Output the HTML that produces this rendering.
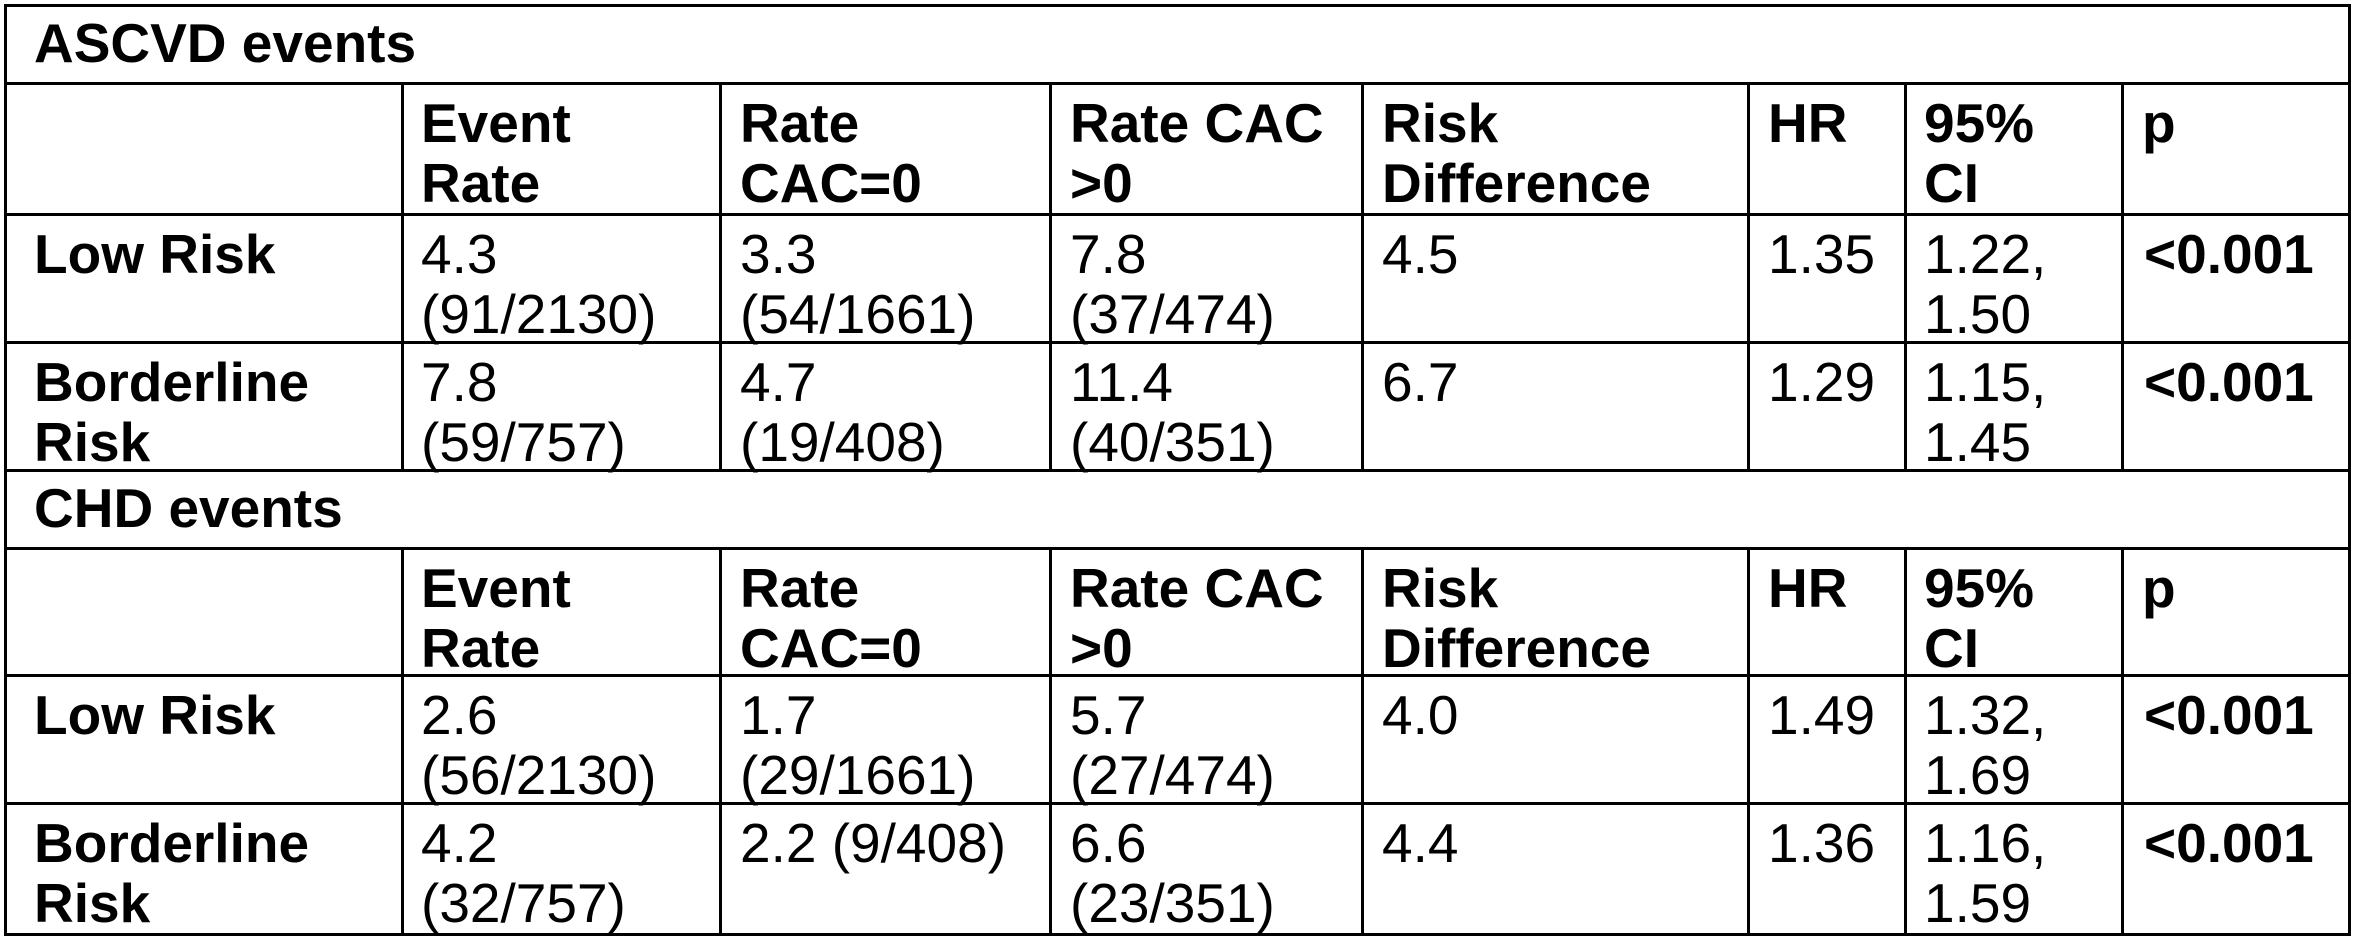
<!DOCTYPE html>
<html><head><meta charset="utf-8"><style>
body{margin:0;width:2354px;height:944px;background:#fff;position:relative;overflow:hidden;font-family:"Liberation Sans",Arial,sans-serif;font-size:55px;line-height:60px;color:#000}
.h{position:absolute;background:#000;height:3px}
.v{position:absolute;background:#000;width:3px}
.c{position:absolute;white-space:nowrap;margin-top:4px}
b{font-weight:bold}
</style></head><body>
<div class="h" style="left:4px;width:2347px;top:4px"></div>
<div class="h" style="left:4px;width:2347px;top:82px"></div>
<div class="h" style="left:4px;width:2347px;top:213px"></div>
<div class="h" style="left:4px;width:2347px;top:341px"></div>
<div class="h" style="left:4px;width:2347px;top:469px"></div>
<div class="h" style="left:4px;width:2347px;top:547px"></div>
<div class="h" style="left:4px;width:2347px;top:674px"></div>
<div class="h" style="left:4px;width:2347px;top:802px"></div>
<div class="h" style="left:4px;width:2347px;top:933px"></div>
<div class="v" style="left:4px;top:4px;height:932px"></div>
<div class="v" style="left:2348px;top:4px;height:932px"></div>
<div class="v" style="left:401px;top:82px;height:390px"></div>
<div class="v" style="left:719px;top:82px;height:390px"></div>
<div class="v" style="left:1049px;top:82px;height:390px"></div>
<div class="v" style="left:1361px;top:82px;height:390px"></div>
<div class="v" style="left:1747px;top:82px;height:390px"></div>
<div class="v" style="left:1904px;top:82px;height:390px"></div>
<div class="v" style="left:2121px;top:82px;height:390px"></div>
<div class="v" style="left:401px;top:547px;height:389px"></div>
<div class="v" style="left:719px;top:547px;height:389px"></div>
<div class="v" style="left:1049px;top:547px;height:389px"></div>
<div class="v" style="left:1361px;top:547px;height:389px"></div>
<div class="v" style="left:1747px;top:547px;height:389px"></div>
<div class="v" style="left:1904px;top:547px;height:389px"></div>
<div class="v" style="left:2121px;top:547px;height:389px"></div>

<div class="c" style="left:34px;top:9px"><b>ASCVD events</b></div>
<div class="c" style="left:34px;top:474px"><b>CHD events</b></div>

<div class="c" style="left:421px;top:89px"><b>Event<br>Rate</b></div>
<div class="c" style="left:740px;top:89px"><b>Rate<br>CAC=0</b></div>
<div class="c" style="left:1070px;top:89px"><b>Rate CAC<br>&gt;0</b></div>
<div class="c" style="left:1382px;top:89px"><b>Risk<br>Difference</b></div>
<div class="c" style="left:1768px;top:89px"><b>HR</b></div>
<div class="c" style="left:1924px;top:89px"><b>95%<br>CI</b></div>
<div class="c" style="left:2142px;top:89px"><b>p</b></div>

<div class="c" style="left:421px;top:554px"><b>Event<br>Rate</b></div>
<div class="c" style="left:740px;top:554px"><b>Rate<br>CAC=0</b></div>
<div class="c" style="left:1070px;top:554px"><b>Rate CAC<br>&gt;0</b></div>
<div class="c" style="left:1382px;top:554px"><b>Risk<br>Difference</b></div>
<div class="c" style="left:1768px;top:554px"><b>HR</b></div>
<div class="c" style="left:1924px;top:554px"><b>95%<br>CI</b></div>
<div class="c" style="left:2142px;top:554px"><b>p</b></div>

<div class="c" style="left:34px;top:220px"><b>Low Risk</b></div>
<div class="c" style="left:421px;top:220px">4.3<br>(91/2130)</div>
<div class="c" style="left:740px;top:220px">3.3<br>(54/1661)</div>
<div class="c" style="left:1070px;top:220px">7.8<br>(37/474)</div>
<div class="c" style="left:1382px;top:220px">4.5</div>
<div class="c" style="left:1768px;top:220px">1.35</div>
<div class="c" style="left:1924px;top:220px">1.22,<br>1.50</div>
<div class="c" style="left:2144px;top:220px"><b>&lt;0.001</b></div>

<div class="c" style="left:34px;top:348px"><b>Borderline<br>Risk</b></div>
<div class="c" style="left:421px;top:348px">7.8<br>(59/757)</div>
<div class="c" style="left:740px;top:348px">4.7<br>(19/408)</div>
<div class="c" style="left:1070px;top:348px">11.4<br>(40/351)</div>
<div class="c" style="left:1382px;top:348px">6.7</div>
<div class="c" style="left:1768px;top:348px">1.29</div>
<div class="c" style="left:1924px;top:348px">1.15,<br>1.45</div>
<div class="c" style="left:2144px;top:348px"><b>&lt;0.001</b></div>

<div class="c" style="left:34px;top:681px"><b>Low Risk</b></div>
<div class="c" style="left:421px;top:681px">2.6<br>(56/2130)</div>
<div class="c" style="left:740px;top:681px">1.7<br>(29/1661)</div>
<div class="c" style="left:1070px;top:681px">5.7<br>(27/474)</div>
<div class="c" style="left:1382px;top:681px">4.0</div>
<div class="c" style="left:1768px;top:681px">1.49</div>
<div class="c" style="left:1924px;top:681px">1.32,<br>1.69</div>
<div class="c" style="left:2144px;top:681px"><b>&lt;0.001</b></div>

<div class="c" style="left:34px;top:809px"><b>Borderline<br>Risk</b></div>
<div class="c" style="left:421px;top:809px">4.2<br>(32/757)</div>
<div class="c" style="left:740px;top:809px">2.2 (9/408)</div>
<div class="c" style="left:1070px;top:809px">6.6<br>(23/351)</div>
<div class="c" style="left:1382px;top:809px">4.4</div>
<div class="c" style="left:1768px;top:809px">1.36</div>
<div class="c" style="left:1924px;top:809px">1.16,<br>1.59</div>
<div class="c" style="left:2144px;top:809px"><b>&lt;0.001</b></div>
</body></html>
